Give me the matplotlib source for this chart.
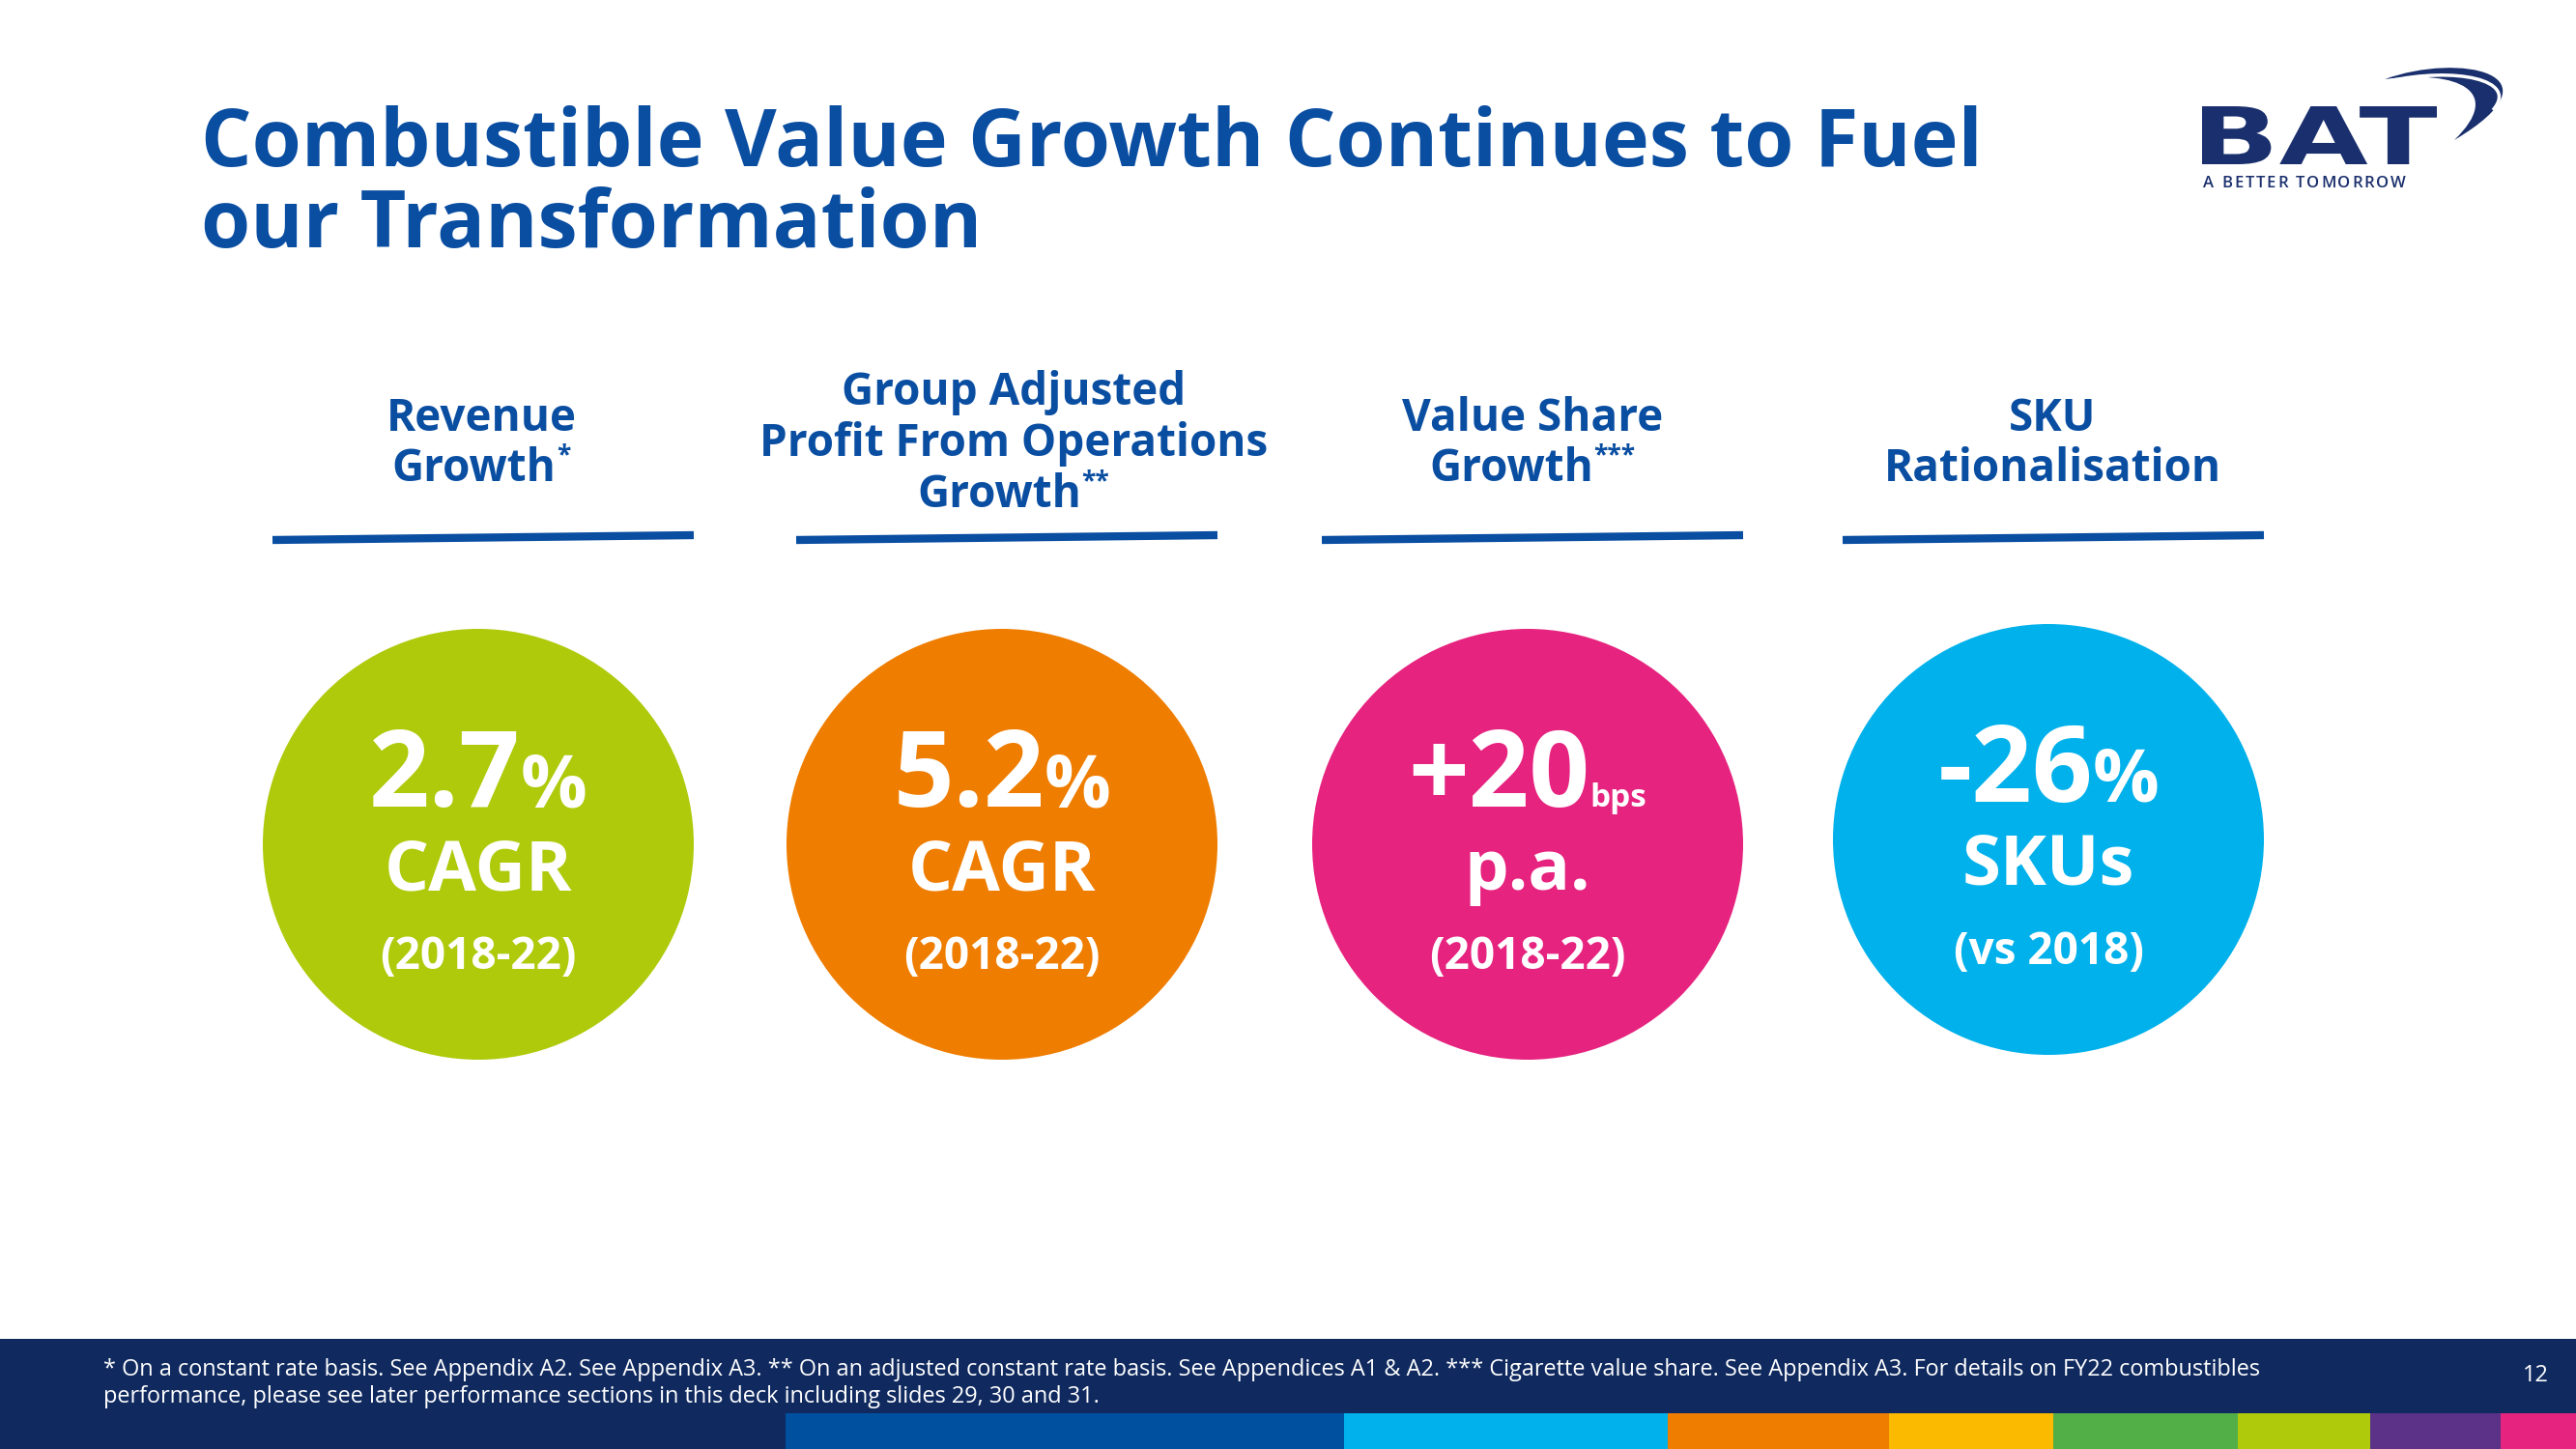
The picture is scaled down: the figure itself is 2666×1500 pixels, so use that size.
import matplotlib
matplotlib.use('Agg')
import matplotlib.pyplot as plt
from matplotlib.patches import Circle, Rectangle, PathPatch
from matplotlib.path import Path
from matplotlib.textpath import TextPath
from matplotlib.font_manager import FontProperties
from matplotlib.transforms import Affine2D

FONT = 'Open Sans'
plt.rcParams['font.family'] = [FONT, 'DejaVu Sans']

# ---- content ----
title_lines = ['Combustible Value Growth Continues to Fuel', 'our Transformation']
headers = [['Revenue', 'Growth'],
           ['Group Adjusted', 'Profit From Operations', 'Growth'],
           ['Value Share', 'Growth'],
           ['SKU', 'Rationalisation']]
marks = ['*', '**', '***', '']
values = ['2.7', '5.2', '+20', '-26']
units = ['%', '%', 'bps', '%']
measures = ['CAGR', 'CAGR', 'p.a.', 'SKUs']
periods = ['(2018-22)', '(2018-22)', '(2018-22)', '(vs 2018)']
circle_colors = ['#afca0b', '#ef7d00', '#e6237f', '#00b1eb']
footnote = ['* On a constant rate basis. See Appendix A2. See Appendix A3. ** On an adjusted constant rate basis. '
            'See Appendices A1 & A2. *** Cigarette value share. See Appendix A3. For details on FY22 combustibles',
            'performance, please see later performance sections in this deck including slides 29, 30 and 31.']
page_no = '12'
strip_colors = ['#0050a0', '#00b1eb', '#ef7d00', '#fbba00', '#52ae47', '#afca0b', '#5c3289', '#e6237f']

BLUE = '#0a4ea2'
NAVY = '#102a5f'
LOGO = '#1a2f6d'

W, H = 2666, 1500
fig = plt.figure(figsize=(W / 100, H / 100), dpi=100)
ax = fig.add_axes([0, 0, 1, 1])
ax.set_xlim(0, W)
ax.set_ylim(H, 0)
ax.axis('off')
renderer = fig.canvas.get_renderer()


def run(xc, yb, pieces, color):
    # pieces: (text, size, raise) drawn side by side, centred on xc
    objs = []
    for s, size, dy in pieces:
        t = ax.text(0, yb - dy, s, fontsize=size, fontweight='bold', color=color,
                    ha='left', va='baseline')
        objs.append(t)
    widths = [o.get_window_extent(renderer).width for o in objs]
    x = xc - sum(widths) / 2
    for o, w in zip(objs, widths):
        o.set_x(x)
        x += w


# title
for i, line in enumerate(title_lines):
    ax.text(208, 172 + i * 84, line, fontsize=59.5, fontweight='bold', color=BLUE,
            ha='left', va='baseline')

# columns
circle_x = [495, 1037, 1581, 2120]
circle_y = [874, 874, 874, 869]
head_x = [498, 1049, 1586, 2124]
line_x = [500, 1042, 1586, 2125]
for i in range(4):
    lines = headers[i]
    n = len(lines)
    y0 = 472 - 53 * (n - 1) / 2
    for j, s in enumerate(lines):
        pieces = [(s, 33, 0)]
        if j == n - 1 and marks[i]:
            pieces.append((marks[i], 19, 19))
        run(head_x[i], y0 + 53 * j, pieces, BLUE)
    ax.plot([line_x[i] - 218, line_x[i] + 218], [559, 554], color=BLUE, lw=6,
            solid_capstyle='butt')

    cx, cy = circle_x[i], circle_y[i]
    ax.add_patch(Circle((cx, cy), 223, color=circle_colors[i], lw=0))
    usize = 24 if units[i] == 'bps' else 55
    run(cx, cy - 39, [(values[i], 79, 0), (units[i], usize, 0)], 'white')
    run(cx, cy + 47, [(measures[i], 52, 0)], 'white')
    run(cx, cy + 129, [(periods[i], 33, 0)], 'white')

# footer band
ax.add_patch(Rectangle((0, 1386), W, H - 1386, color=NAVY, lw=0))
ft = ax.text(107, 1424, footnote[0], fontsize=17, color='white', ha='left', va='baseline')
fw = ft.get_window_extent(renderer).width
fsize = 17 * 2234 / fw
ft.set_fontsize(fsize)
ax.text(107, 1452, footnote[1], fontsize=fsize, color='white', ha='left', va='baseline')
ax.text(2624, 1430, page_no, fontsize=fsize, color='white', ha='center', va='baseline')

edges = [813, 1391, 1726, 1955, 2125, 2316, 2453, 2588, 2666]
for k, c in enumerate(strip_colors):
    ax.add_patch(Rectangle((edges[k], 1463), edges[k + 1] - edges[k], H - 1463, color=c, lw=0))

# logo
tp = TextPath((0, 0), 'BAT', size=100, prop=FontProperties(family='DejaVu Sans', weight='bold'))
ext = tp.get_extents()
tr = Affine2D().translate(-ext.x0, -ext.y0).scale(243 / ext.width, -60 / ext.height).translate(2279, 170)
ax.add_patch(PathPatch(tr.transform_path(tp), color=LOGO, lw=0))

# letter-spaced tagline
tag = 'A BETTER TOMORROW'
chars = []
for ch in tag:
    t = ax.text(0, 194, ch, fontsize=12, fontweight='semibold', color=LOGO,
                ha='left', va='baseline')
    chars.append(t)
cw = [c.get_window_extent(renderer).width for c in chars]
track = (2490 - 2280 - sum(cw)) / (len(tag) - 1)
tx = 2280
for c, w in zip(chars, cw):
    c.set_x(tx)
    tx += w + track

sw = Path([(2468, 82), (2545, 54), (2656, 76), (2540, 145),
           (2592, 95), (2545, 72), (2468, 82), (2468, 82)],
          [Path.MOVETO, Path.CURVE4, Path.CURVE4, Path.CURVE4,
           Path.CURVE4, Path.CURVE4, Path.CURVE4, Path.CLOSEPOLY])
ax.add_patch(PathPatch(sw, color=LOGO, lw=0))
gap = Path([(2472, 84), (2540, 69), (2608, 82), (2580, 114)],
           [Path.MOVETO, Path.CURVE4, Path.CURVE4, Path.CURVE4])
ax.add_patch(PathPatch(gap, facecolor='none', edgecolor='white', lw=2.5))

fig.savefig('out.png', dpi=100, facecolor='white')
